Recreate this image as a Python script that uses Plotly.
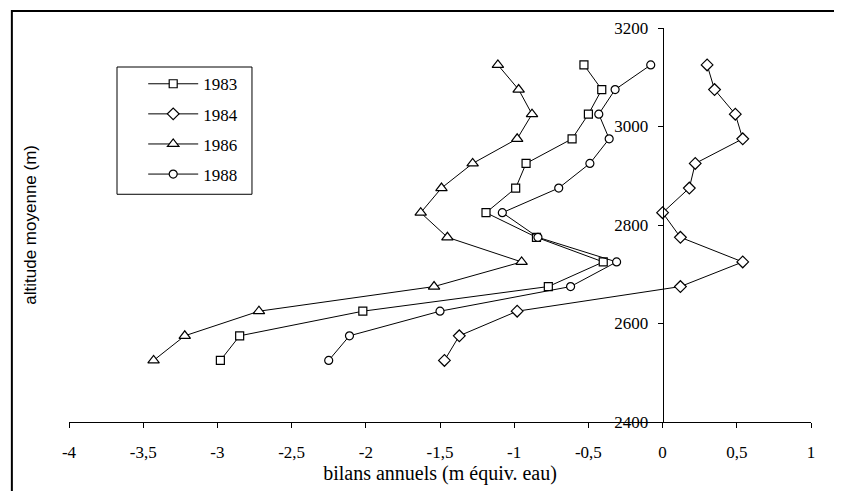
import plotly.graph_objects as go

# altitude moyenne des tranches (m)
altitudes = [3125, 3075, 3025, 2975, 2925, 2875, 2825, 2775, 2725, 2675, 2625, 2575, 2525]

# bilans annuels (m equiv. eau) par annee
bilan_1983 = [-0.53, -0.41, -0.50, -0.61, -0.92, -0.99, -1.19, -0.85, -0.40, -0.77, -2.02, -2.85, -2.98]
bilan_1984 = [0.30, 0.35, 0.49, 0.54, 0.22, 0.18, 0.00, 0.12, 0.54, 0.12, -0.98, -1.37, -1.47]
bilan_1986 = [-1.11, -0.97, -0.88, -0.98, -1.28, -1.49, -1.63, -1.45, -0.95, -1.54, -2.72, -3.22, -3.43]
bilan_1988 = [-0.08, -0.32, -0.43, -0.36, -0.49, -0.70, -1.08, -0.84, -0.31, -0.62, -1.50, -2.11, -2.25]

x_ticks = [-4, -3.5, -3, -2.5, -2, -1.5, -1, -0.5, 0, 0.5, 1]
x_labels = ["-4", "-3,5", "-3", "-2,5", "-2", "-1,5", "-1", "-0,5", "0", "0,5", "1"]
y_ticks = [2400, 2600, 2800, 3000, 3200]

series = [
    ("1983", bilan_1983, "square", 8),
    ("1984", bilan_1984, "diamond", 9),
    ("1986", bilan_1986, "triangle-up", 10),
    ("1988", bilan_1988, "circle", 8),
]

SERIF = "Liberation Serif"
SANS = "Liberation Sans"

fig = go.Figure()
for nom, valeurs, symbole, taille in series:
    fig.add_trace(go.Scatter(
        x=valeurs, y=altitudes, name=nom, mode="lines+markers", legendgroup=nom,
        line=dict(color="black", width=1),
        marker=dict(symbol=symbole, size=taille, color="white", line=dict(color="black", width=1.2)),
    ))

# la page ajoute une marge de 8 px : on la compense
fig.update_layout(
    width=834, height=483,
    margin=dict(l=61, r=31, t=20, b=69),
    paper_bgcolor="white", plot_bgcolor="white",
    separators=", ",
    font=dict(family=SERIF, size=17, color="black"),
    showlegend=True,
    legend=dict(
        x=0.10, y=0.903, xanchor="left", yanchor="top",
        borderwidth=0, bgcolor="rgba(0,0,0,0)", itemwidth=50,
        font=dict(family=SERIF, size=17), tracegroupgap=5,
    ),
    xaxis=dict(
        range=[-4, 1], tickvals=x_ticks, ticktext=x_labels,
        showgrid=False, zeroline=False, showline=True, linecolor="black", linewidth=1,
        ticks="outside", ticklen=5, tickcolor="black", ticklabelstandoff=10,
        tickfont=dict(family=SERIF, size=17),
        title=dict(text="bilans annuels (m équiv. eau)", font=dict(family=SERIF, size=20), standoff=0),
    ),
    yaxis=dict(
        range=[2400, 3200], tickvals=y_ticks,
        anchor="free", position=0.8,
        showgrid=False, zeroline=False, showline=True, linecolor="black", linewidth=1,
        ticks="outside", ticklen=5, tickcolor="black", ticklabelstandoff=6,
        tickfont=dict(family=SERIF, size=17),
    ),
    shapes=[
        dict(type="rect", xref="paper", yref="paper", x0=-0.077, x1=1.2, y0=-0.3, y1=1.043,
             line=dict(color="black", width=2), fillcolor="rgba(0,0,0,0)", layer="below"),
        dict(type="rect", xref="paper", yref="paper", x0=0.0647, x1=0.2466, y0=0.578, y1=0.901,
             line=dict(color="black", width=1), fillcolor="white", layer="below"),
    ],
    annotations=[
        dict(text="altitude moyenne (m)", xref="paper", yref="paper", x=-0.053, y=0.5,
             textangle=-90, showarrow=False, xanchor="center", yanchor="middle",
             font=dict(family=SANS, size=17)),
    ],
)

fig.write_html("out.html")
